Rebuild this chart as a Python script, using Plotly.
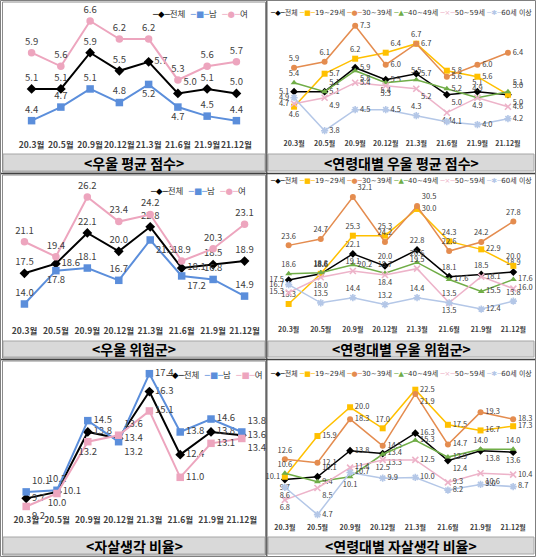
import plotly.graph_objects as go

W, H = 536, 557
FONT = "Noto Sans CJK KR"
LEG_FONT = "DejaVu Sans, Noto Sans CJK KR"

months = ["20.3월", "20.5월", "20.9월", "20.12월", "21.3월", "21.6월", "21.9월", "21.12월"]

# 우울 평균 점수 (성별)
dep_total = [5.1, 5.1, 5.9, 5.5, 5.7, 5.0, 5.1, 5.0]
dep_male = [4.4, 4.7, 5.1, 4.8, 5.2, 4.7, 4.5, 4.4]
dep_female = [5.9, 5.6, 6.6, 6.2, 6.2, 5.3, 5.6, 5.7]

# 연령대별 우울 평균 점수
dep_a20 = [4.6, 5.7, 6.2, 6.4, 6.7, 5.8, 5.6, 5.0]
dep_a30 = [5.9, 6.1, 7.3, 6.0, 6.7, 5.6, 6.0, 6.4]
dep_a40 = [5.4, 5.1, 5.8, 5.4, 5.5, 5.2, 4.9, 5.1]
dep_a50 = [4.7, 4.9, 5.4, 5.3, 5.2, 4.4, 4.9, 4.6]
dep_a60 = [4.9, 3.8, 4.5, 4.5, 4.3, 4.1, 4.0, 4.2]

# 우울 위험군 (성별)
risk_total = [17.5, 18.6, 22.1, 20.0, 22.8, 18.1, 18.5, 18.9]
risk_male = [14.0, 17.8, 18.1, 16.7, 21.3, 17.2, 16.8, 14.9]
risk_female = [21.1, 19.4, 26.2, 23.4, 24.2, 18.9, 20.3, 23.1]

# 연령대별 우울 위험군
risk_a20 = [13.3, 18.6, 25.3, 25.3, 30.0, 24.3, 22.9, 20.0]
risk_a30 = [23.6, 24.7, 32.1, 24.2, 30.5, 22.6, 24.2, 27.8]
risk_a40 = [18.6, 18.8, 20.2, 18.7, 20.6, 17.6, 15.5, 17.6]
risk_a50 = [15.3, 18.0, 19.1, 18.4, 19.5, 13.5, 18.1, 16.0]
risk_a60 = [16.7, 13.5, 14.4, 13.2, 14.4, 13.5, 12.4, 13.8]

# 자살생각 비율 (성별)
sui_total = [9.7, 10.1, 13.8, 13.4, 16.3, 12.4, 13.8, 13.6]
sui_male = [10.1, 10.2, 14.5, 13.2, 17.4, 13.8, 14.6, 13.8]
sui_female = [9.2, 10.0, 13.2, 13.6, 15.1, 11.0, 13.1, 13.4]

# 연령대별 자살생각 비율
sui_a20 = [10.1, 15.9, 20.0, 17.0, 22.5, 17.5, 16.7, 17.3]
sui_a30 = [12.6, 12.1, 18.3, 14.5, 21.9, 14.7, 19.3, 18.3]
sui_a40 = [10.6, 9.4, 10.1, 13.3, 15.3, 12.9, 14.0, 14.0]
sui_a50 = [6.8, 8.5, 11.4, 12.5, 12.5, 9.3, 10.6, 10.4]
sui_a60 = [8.6, 4.7, 10.7, 9.9, 10.0, 8.2, 9.0, 8.7]

gender_names = ["전체", "남", "여"]
age_names = ["전체", "19~29세", "30~39세", "40~49세", "50~59세", "60세 이상"]

BLACK, BLUE, PINK = "#000000", "#5B8EDB", "#EDA5BE"
AGE_STYLE = [(BLACK, "diamond"), ("#FFC000", "square"), ("#E48C4F", "circle"),
             ("#70AD47", "triangle-up"), ("#EDB3C9", "x-thin"), ("#B4C7E7", "asterisk")]
GLYPH = {"diamond": "◆", "square": "■", "circle": "●", "triangle-up": "▲",
         "x-thin": "×", "asterisk": "✱"}

T, B, R, L = "top center", "bottom center", "middle right", "middle left"
TR, BR = "top right", "bottom right"


def fx(p):
    return p / W


def fy(p):
    return 1 - p / H


def yrange(top, bottom, ref_val, ref_px, ppu):
    return [ref_val - (bottom - ref_px) / ppu, ref_val + (ref_px - top) / ppu]


panels = [
    dict(xd=(15, 253), yd=(5, 138), cal=(6.6, 21, 45.3), cap="<우울 평균 점수>", small=False,
         series=[dep_total, dep_male, dep_female],
         pos=[[T, T, T, T, R, TR, T, T], [T, T, T, T, B, B, T, T], [T] * 8]),
    dict(xd=(278, 524), yd=(5, 138), cal=(7.3, 25.7, 30), cap="<연령대별 우울 평균 점수>", small=True,
         series=[dep_total, dep_a20, dep_a30, dep_a40, dep_a50, dep_a60],
         pos=[[L, R, R, R, R, BR, T, BR], [B, R, T, TR, R, R, R, TR], [T, T, R, R, T, R, R, R],
              [T, TR, BR, B, T, R, B, TR], [L, BR, R, B, BR, B, T, R], [L, R, R, R, T, R, R, R]]),
    dict(xd=(7, 262), yd=(180, 324), cal=(26.2, 197, 8.77), cap="<우울 위험군>", small=False,
         series=[risk_total, risk_male, risk_female],
         pos=[[T, R, T, T, T, R, T, T], [T, B, T, T, BR, BR, T, T], [T] * 8]),
    dict(xd=(272, 530), yd=(180, 324), cal=(32.1, 197, 5.69), cap="<연령대별 우울 위험군>", small=True,
         series=[risk_total, risk_a20, risk_a30, risk_a40, risk_a50, risk_a60],
         pos=[[L, T, T, T, T, T, T, T], [T, T, T, T, R, T, R, T], [T, T, TR, T, TR, T, T, T],
              [T, T, R, T, T, R, R, R], [L, B, T, B, T, T, R, R], [L, T, T, T, T, B, R, T]]),
    dict(xd=(9, 259), yd=(364, 513), cal=(17.4, 373.7, 16.19), cap="<자살생각 비율>", small=False,
         series=[sui_total, sui_male, sui_female],
         pos=[[R] * 8, [TR, T, R, BR, R, R, R, TR], [BR, B, B, TR, R, R, R, BR]]),
    dict(xd=(268, 530), yd=(364, 522), cal=(22.5, 389.7, 7.02), cap="<연령대별 자살생각 비율>", small=True,
         series=[sui_total, sui_a20, sui_a30, sui_a40, sui_a50, sui_a60],
         pos=[[B, TR, R, R, R, BR, BR, B], [L, R, R, T, R, R, R, R], [T, R, R, R, BR, R, R, R],
              [T, R, B, BR, R, R, T, T], [B, BR, R, B, R, R, BR, R], [B, R, R, R, R, R, R, R]]),
]

legend_y = [14, 12, 191, 180, 375, 373]
legend_x = [250, 401, 248, 401, 264, 401]

fig = go.Figure()
shapes = []
annotations = []

for i, p in enumerate(panels):
    n = i + 1
    xa = "x" if n == 1 else f"x{n}"
    ya = "y" if n == 1 else f"y{n}"
    small = p["small"]
    if small:
        names = age_names
        styles = AGE_STYLE
    else:
        names = gender_names
        styles = [(BLACK, "diamond"), (BLUE, "square"), (PINK, "square" if n == 5 else "circle")]
    for k, vals in enumerate(p["series"]):
        color, sym = styles[k]
        mline = dict(width=1.6, color=color) if sym in ("x-thin", "asterisk") else dict(width=0)
        fig.add_trace(go.Scatter(
            x=months, y=vals, xaxis=xa, yaxis=ya, name=names[k],
            mode="lines+markers+text",
            text=[f"{v:.1f}" for v in vals],
            textposition=p["pos"][k],
            textfont=dict(family=FONT, size=7.5 if small else 9.5, color="#404040"),
            line=dict(color=color, width=1.5 if small else 2),
            marker=dict(symbol=sym, size=6 if small else 7.5, color=color, line=mline),
            cliponaxis=False, showlegend=False, hoverinfo="skip",
        ))

    axis_key = "xaxis" if n == 1 else f"xaxis{n}"
    yaxis_key = "yaxis" if n == 1 else f"yaxis{n}"
    fig.layout[axis_key] = dict(
        domain=[fx(p["xd"][0]), fx(p["xd"][1])], anchor=ya, type="category",
        showgrid=False, showline=False, zeroline=False, ticks="", tickangle=0,
        tickfont=dict(family=FONT, size=7 if small else 8.5, color="#404040", weight="bold"),
        fixedrange=True,
    )
    fig.layout[yaxis_key] = dict(
        domain=[fy(p["yd"][1]), fy(p["yd"][0])], anchor=xa,
        range=yrange(p["yd"][0], p["yd"][1], *p["cal"]),
        visible=False, fixedrange=True,
    )

    # legend built as coloured text
    parts = []
    for k, name in enumerate(names):
        color, sym = styles[k]
        parts.append(f"<span style='color:{color}'>─{GLYPH[sym]}─</span>{name}")
    annotations.append(dict(
        x=fx(legend_x[i]), y=fy(legend_y[i]), xref="paper", yref="paper",
        text=" ".join(parts) if small else "  ".join(parts), showarrow=False,
        xanchor="center" if small else "right", yanchor="middle",
        font=dict(family=LEG_FONT, size=7 if small else 8.5, color="#333333"),
    ))

# caption bars and frame
rows = [(154, 171), (341, 357), (537, 554)]
cols = [(3, 265), (268, 534)]
for r, (y0, y1) in enumerate(rows):
    for c, (x0, x1) in enumerate(cols):
        shapes.append(dict(type="rect", xref="paper", yref="paper",
                           x0=fx(x0), x1=fx(x1), y0=fy(y1), y1=fy(y0),
                           fillcolor="#D9D9D9", line=dict(color="#A6A6A6", width=1), layer="below"))
        cap = panels[r * 2 + c]["cap"]
        annotations.append(dict(
            x=fx((x0 + x1) / 2), y=fy((y0 + y1) / 2), xref="paper", yref="paper",
            text=f"<b>{cap}</b>", showarrow=False, xanchor="center", yanchor="middle",
            font=dict(family=FONT, size=14, color="#000000"),
        ))

cells_y = [(2, 172), (175, 358), (361, 555)]
for (y0, y1) in cells_y:
    shapes.append(dict(type="rect", xref="paper", yref="paper",
                       x0=fx(2.5), x1=fx(265.5), y0=fy(y1), y1=fy(y0),
                       line=dict(color="#8C8C8C", width=1), layer="below"))

for yy in (173.5, 359.5):
    shapes.append(dict(type="line", xref="paper", yref="paper",
                       x0=0, x1=1, y0=fy(yy), y1=fy(yy), line=dict(color="#404040", width=1.5)))
shapes.append(dict(type="line", xref="paper", yref="paper",
                   x0=fx(266.8), x1=fx(266.8), y0=0, y1=1, line=dict(color="#404040", width=1.2)))
shapes.append(dict(type="rect", xref="paper", yref="paper",
                   x0=fx(0.5), x1=fx(535.5), y0=fy(556.5), y1=fy(0.5),
                   line=dict(color="#7F7F7F", width=1)))

fig.update_layout(
    width=W, height=H, margin=dict(l=0, r=0, t=0, b=0),
    paper_bgcolor="white", plot_bgcolor="rgba(0,0,0,0)",
    font=dict(family=FONT),
    shapes=shapes, annotations=annotations, showlegend=False,
)

# the page's default 8px body margin would push the figure off the window
fig.write_html("out.html", config={"displayModeBar": False},
               post_script="document.body.style.margin='0';")
